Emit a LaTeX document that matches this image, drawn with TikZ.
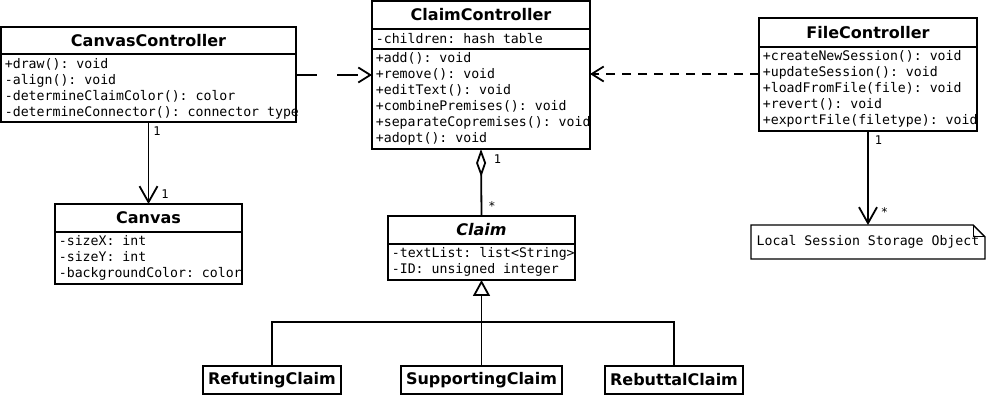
\documentclass[tikz,border=0pt]{standalone}
\usepackage{fontspec}
\setmainfont{DejaVu Sans}
\setmonofont{DejaVu Sans Mono}
\usetikzlibrary{positioning,arrows.meta}

\tikzset{
  classhead/.style={draw, anchor=north west, inner sep=0pt, outer sep=0pt,
    font=\bfseries\fontsize{16}{19}\selectfont},
  classpart/.style={draw, inner sep=0pt, outer sep=0pt},
  members/.style={anchor=north west, inner sep=0pt, align=left,
    font=\ttfamily\fontsize{13.2}{16}\selectfont},
  mult/.style={inner sep=0pt, font=\ttfamily\fontsize{12}{14}\selectfont},
  uses/.style={-{Straight Barb[length=16pt,width=18pt]}},
  aggr/.style={{Diamond[open,length=28pt,width=10pt]}-},
  inherit/.style={-{Triangle[open,length=16pt,width=17pt]}},
}

\begin{document}
\begin{tikzpicture}[x=1pt, y=-1pt, line width=1.8pt]
\useasboundingbox (0,0) rectangle (986,395);

% CanvasController
\node[classhead, minimum width=295pt, minimum height=27pt] (cct) at (1,27) {CanvasController};
\node[classpart, minimum width=295pt, minimum height=68pt, below=0pt of cct] (ccb) {};
\node[members] (cctxt) at ([shift={(3pt,-4pt)}]ccb.north west)
  {+draw(): void\\-align(): void\\-determineClaimColor(): color\\-determineConnector(): connector type};

% ClaimController
\node[classhead, minimum width=218pt, minimum height=28pt] (clt) at (372,1) {ClaimController};
\node[classpart, minimum width=218pt, minimum height=20pt, below=0pt of clt] (cla) {};
\node[classpart, minimum width=218pt, minimum height=100pt, below=0pt of cla] (clm) {};
\node[members] (clatxt) at ([shift={(3pt,-3.5pt)}]cla.north west) {-children: hash table};
\node[members] (clmtxt) at ([shift={(3pt,-3pt)}]clm.north west)
  {+add(): void\\+remove(): void\\+editText(): void\\+combinePremises(): void\\+separateCopremises(): void\\+adopt(): void};

% FileController
\node[classhead, minimum width=218pt, minimum height=29pt] (fct) at (759,18) {FileController};
\node[classpart, minimum width=218pt, minimum height=84pt, below=0pt of fct] (fcb) {};
\node[members] (fctxt) at ([shift={(3pt,-3pt)}]fcb.north west)
  {+createNewSession(): void\\+updateSession(): void\\+loadFromFile(file): void\\+revert(): void\\+exportFile(filetype): void};

% Canvas
\node[classhead, minimum width=187pt, minimum height=28pt] (cvt) at (55,204) {Canvas};
\node[classpart, minimum width=187pt, minimum height=52pt, below=0pt of cvt] (cvb) {};
\node[members] (cvtxt) at ([shift={(3pt,-3pt)}]cvb.north west)
  {-sizeX: int\\-sizeY: int\\-backgroundColor: color};

% Claim
\node[classhead, minimum width=187pt, minimum height=28pt, font=\bfseries\itshape\fontsize{16}{19}\selectfont] (clt2) at (388,216) {Claim};
\node[classpart, minimum width=187pt, minimum height=36pt, below=0pt of clt2] (clb) {};
\node[members] (cltxt) at ([shift={(3pt,-3pt)}]clb.north west)
  {-textList: list<String>\\-ID: unsigned integer};

% subclasses
\node[classhead, minimum width=138pt, minimum height=28pt] (rf) at (203,366) {RefutingClaim};
\node[classhead, minimum width=161pt, minimum height=28pt] (sp) at (401,366) {SupportingClaim};
\node[classhead, minimum width=138pt, minimum height=28pt] (rb) at (605,366) {RebuttalClaim};

% note
\node[anchor=north west, minimum width=234pt, minimum height=34pt, inner sep=0pt, outer sep=0pt,
  font=\ttfamily\fontsize{13.2}{16}\selectfont] (lso) at (751,225) {Local Session Storage Object};
\draw[line width=1.4pt] (lso.north west) -- ([xshift=-12pt]lso.north east) -- ([yshift=-12pt]lso.north east)
  -- (lso.south east) -- (lso.south west) -- cycle;
\draw[line width=1pt] ([xshift=-12pt]lso.north east) |- ([yshift=-12pt]lso.north east);

% connectors
\draw[-{Straight Barb[length=12pt,width=15pt]}, dash pattern=on 21pt off 20pt] ([yshift=13pt]ccb.east) -- ([yshift=13pt]ccb.east -| clm.west);
\draw[-{Straight Barb[length=12pt,width=15pt]}, dash pattern=on 9pt off 7pt] ([yshift=15pt]fcb.west) -- ([yshift=15pt]fcb.west -| clm.east);
\draw[uses] (ccb.south) -- (cvt.north);
\draw[aggr] (clm.south) -- (clt2.north);
\draw[uses] (fcb.south) -- (lso.north);
\draw[inherit] (sp.north) -- (clb.south);
\draw (rf.north) -- (rf.north |- 0,322) -- (rb.north |- 0,322) -- (rb.north);

% multiplicities
\node[mult, anchor=north west] (m1) at ([shift={(4pt,-4pt)}]ccb.south) {1};
\node[mult, anchor=south west] (m2) at ([shift={(12pt,5pt)}]cvt.north) {1};
\node[mult, anchor=north west] (m3) at ([shift={(12pt,-5pt)}]clm.south) {1};
\node[mult, anchor=south west] (m4) at ([shift={(6pt,5pt)}]clt2.north) {*};
\node[mult, anchor=north west] (m5) at ([shift={(6pt,-4pt)}]fcb.south) {1};
\node[mult, anchor=south west] (m6) at ([shift={(12pt,8pt)}]lso.north) {*};
\end{tikzpicture}
\end{document}
